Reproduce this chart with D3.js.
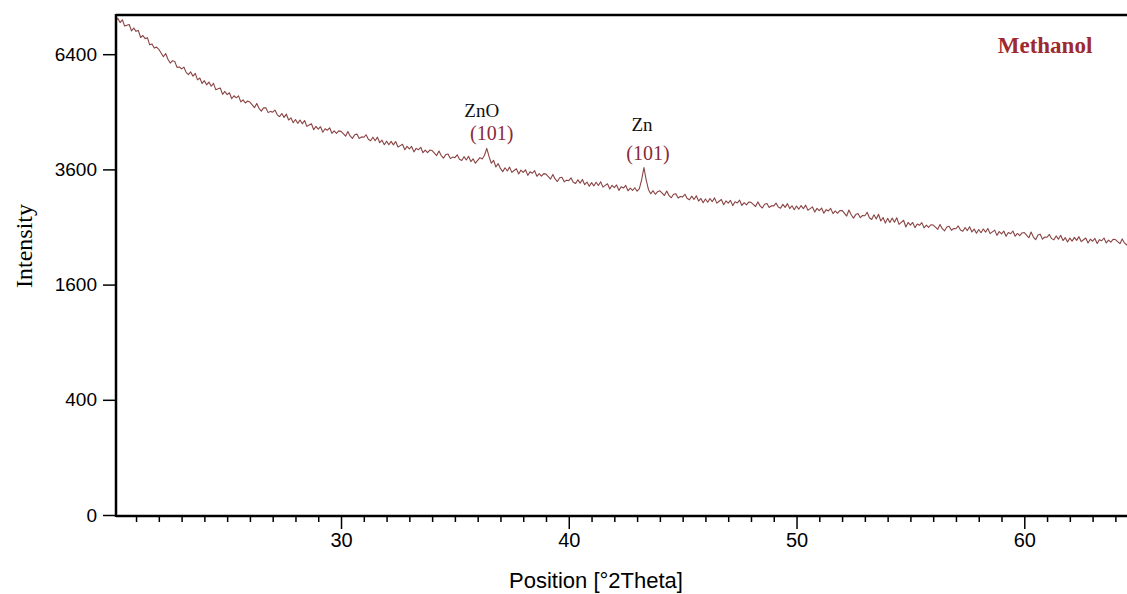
<!DOCTYPE html>
<html>
<head>
<meta charset="utf-8">
<script src="https://cdn.jsdelivr.net/npm/d3@7"></script>
<style>
  html, body { margin: 0; padding: 0; background: #fff; }
  svg { display: block; }
</style>
</head>
<body>
<svg id="chart" width="1127" height="594"></svg>
<script>
// ---- Data ----
const scanStart = 20.0;   // °2Theta of first sample
const scanStep = 0.1;     // °2Theta between samples
const intensity = [
  7480,7353,7436,7309,7392,7205,7228,7251,7064,7147,
  7051,7078,6873,6929,6840,6867,6662,6689,6571,6598,
  6536,6432,6328,6420,6260,6156,6220,6200,6040,6048,
  6000,6047,5905,5844,5918,5803,5877,5708,5755,5613,
  5686,5577,5650,5541,5614,5453,5474,5495,5334,5407,
  5325,5374,5223,5297,5246,5295,5144,5193,5117,5166,
  5140,5070,5000,5105,4985,4915,4995,5000,4880,4910,
  4890,4942,4826,4782,4858,4766,4842,4702,4754,4638,
  4714,4624,4702,4612,4690,4552,4582,4612,4474,4552,
  4487,4544,4417,4497,4462,4519,4392,4449,4391,4448,
  4436,4381,4326,4432,4331,4276,4359,4373,4272,4309,
  4300,4358,4255,4221,4302,4222,4303,4177,4235,4132,
  4212,4133,4208,4129,4204,4081,4112,4143,4020,4095,
  4038,4094,3974,4052,4020,4076,3956,4012,3958,4014,
  4004,3949,3894,3993,3894,3839,3916,3927,3828,3861,
  3850,3910,3816,3788,3870,3798,3880,3764,3824,3730,
  3790,3850,3820,3900,4050,3870,3730,3790,3650,3720,
  3621,3554,3634,3567,3647,3538,3576,3614,3505,3585,
  3539,3592,3477,3551,3520,3573,3458,3511,3459,3512,
  3502,3451,3400,3496,3403,3352,3427,3439,3346,3379,
  3370,3424,3338,3312,3386,3320,3394,3288,3342,3256,
  3330,3264,3338,3272,3346,3240,3274,3308,3202,3276,
  3230,3283,3176,3249,3222,3275,3168,3221,3174,3227,
  3160,3210,3390,3640,3380,3190,3110,3170,3100,3150,
  3168,3122,3076,3163,3079,3033,3101,3112,3028,3058,
  3050,3101,3019,2994,3064,3001,3071,2970,3021,2939,
  3009,2948,3020,2959,3031,2932,2966,3000,2901,2973,
  2931,2984,2885,2957,2934,2987,2888,2941,2899,2952,
  2946,2907,2868,2955,2880,2841,2910,2925,2850,2883,
  2880,2932,2858,2838,2908,2852,2922,2830,2882,2808,
  2878,2819,2886,2827,2894,2799,2830,2861,2766,2833,
  2792,2840,2744,2810,2786,2834,2738,2786,2744,2792,
  2796,2745,2694,2804,2717,2656,2720,2738,2664,2705,
  2700,2762,2663,2633,2718,2642,2727,2605,2667,2568,
  2652,2578,2658,2584,2664,2546,2582,2618,2500,2580,
  2533,2579,2489,2552,2530,2576,2486,2532,2493,2539,
  2534,2497,2460,2542,2471,2434,2499,2513,2442,2473,
  2470,2518,2447,2427,2492,2438,2503,2415,2463,2392,
  2457,2402,2466,2411,2475,2386,2416,2446,2357,2421,
  2383,2430,2341,2405,2384,2431,2342,2389,2351,2398,
  2405,2361,2317,2413,2329,2285,2361,2377,2293,2329,
  2325,2373,2302,2282,2347,2293,2358,2270,2318,2247,
  2311,2261,2323,2273,2335,2253,2283,2313,2231,2293,
  2259,2305,2223,2285,2267,2313,2231,2277,2243,2289,
  2287,2253,2219,2297,2231,2197,2259,2273,2207
];
const xTicks = [30, 40, 50, 60];
const yTicks = [0, 400, 1600, 3600, 6400];
const peakLabels = [
  { pos: 36.4, phase: "ZnO", hkl: "(101)" },
  { pos: 43.3, phase: "Zn",  hkl: "(101)" }
];
const sampleName = "Methanol";

// ---- Layout ----
const L = 116, R = 1127, T = 15, B = 516;
const svg = d3.select("#chart");
svg.append("rect").attr("width", 1127).attr("height", 594).attr("fill", "#fff");

const x = d3.scaleLinear().domain([20.12, 64.51]).range([L, R]);
const y = d3.scaleSqrt().domain([0, 7535]).range([515, T]);

const data = intensity.map((v, i) => ({ t: scanStart + i * scanStep, v }));

svg.append("clipPath").attr("id", "clip")
  .append("rect").attr("x", L).attr("y", T).attr("width", R - L).attr("height", B - T);

svg.append("path")
  .datum(data)
  .attr("clip-path", "url(#clip)")
  .attr("fill", "none")
  .attr("stroke", "#8a4343")
  .attr("stroke-width", 1.1)
  .attr("stroke-linejoin", "round")
  .attr("d", d3.line().x(d => x(d.t)).y(d => y(d.v)));

// X axis: minor ticks every degree, major at labelled ticks
const minor = d3.range(21, 65, 1).filter(d => xTicks.indexOf(d) < 0 && d < 64.51);
const xAxisMinor = d3.axisBottom(x).tickValues(minor).tickSize(6).tickFormat("");
const gxm = svg.append("g").attr("transform", `translate(0,${B})`).call(xAxisMinor);
gxm.select(".domain").remove();
gxm.selectAll("line").attr("stroke", "#000").attr("stroke-width", 1.5);

const xAxis = d3.axisBottom(x).tickValues(xTicks).tickSize(13).tickPadding(4).tickFormat(d3.format("d"));
const gx = svg.append("g").attr("transform", `translate(0,${B})`).call(xAxis);
gx.select(".domain").remove();
gx.selectAll("line").attr("stroke", "#000").attr("stroke-width", 1.5);
gx.selectAll("text")
  .attr("font-family", "Liberation Sans, Arial, sans-serif")
  .attr("font-size", 20).attr("fill", "#000");

// Y axis
const yAxis = d3.axisLeft(y).tickValues(yTicks).tickSize(13).tickPadding(6).tickFormat(d3.format("d"));
const gy = svg.append("g").attr("transform", `translate(${L},0)`).call(yAxis);
gy.select(".domain").remove();
gy.selectAll("line").attr("stroke", "#000").attr("stroke-width", 1.5);
gy.selectAll("text")
  .attr("font-family", "Liberation Sans, Arial, sans-serif")
  .attr("font-size", 19).attr("fill", "#000");

// Frame lines: left, bottom, top
svg.append("line").attr("x1", L).attr("x2", L).attr("y1", T - 1).attr("y2", B + 1)
  .attr("stroke", "#000").attr("stroke-width", 2.5);
svg.append("line").attr("x1", L).attr("x2", R).attr("y1", B).attr("y2", B)
  .attr("stroke", "#000").attr("stroke-width", 2.5);
svg.append("line").attr("x1", L).attr("x2", R).attr("y1", T).attr("y2", T)
  .attr("stroke", "#000").attr("stroke-width", 2.5);

// Axis titles
svg.append("text")
  .attr("x", 596).attr("y", 588)
  .attr("text-anchor", "middle")
  .attr("font-family", "Liberation Sans, Arial, sans-serif")
  .attr("font-size", 22).attr("fill", "#000")
  .text("Position [°2Theta]");

svg.append("text")
  .attr("transform", "translate(32,246) rotate(-90)")
  .attr("text-anchor", "middle")
  .attr("font-family", "Liberation Serif, Times New Roman, serif")
  .attr("font-size", 24).attr("fill", "#000")
  .text("Intensity");

// Peak annotations
const phaseOffsets = [{ dx: -5, py: 117, hy: 140, hdx: 5 }, { dx: -2, py: 131, hy: 160, hdx: 4 }];
peakLabels.forEach((p, i) => {
  const o = phaseOffsets[i];
  svg.append("text")
    .attr("x", x(p.pos) + o.dx).attr("y", o.py)
    .attr("text-anchor", "middle")
    .attr("font-family", "Liberation Serif, Times New Roman, serif")
    .attr("font-size", 19).attr("fill", "#111")
    .text(p.phase);
  svg.append("text")
    .attr("x", x(p.pos) + o.hdx).attr("y", o.hy)
    .attr("text-anchor", "middle")
    .attr("font-family", "Liberation Serif, Times New Roman, serif")
    .attr("font-size", 20).attr("fill", "#8a2a3a")
    .text(p.hkl);
});

svg.append("text")
  .attr("x", 1045).attr("y", 53)
  .attr("text-anchor", "middle")
  .attr("font-family", "Liberation Serif, Times New Roman, serif")
  .attr("font-weight", "bold")
  .attr("font-size", 23).attr("fill", "#9e2a2f")
  .text(sampleName);
</script>
</body>
</html>
